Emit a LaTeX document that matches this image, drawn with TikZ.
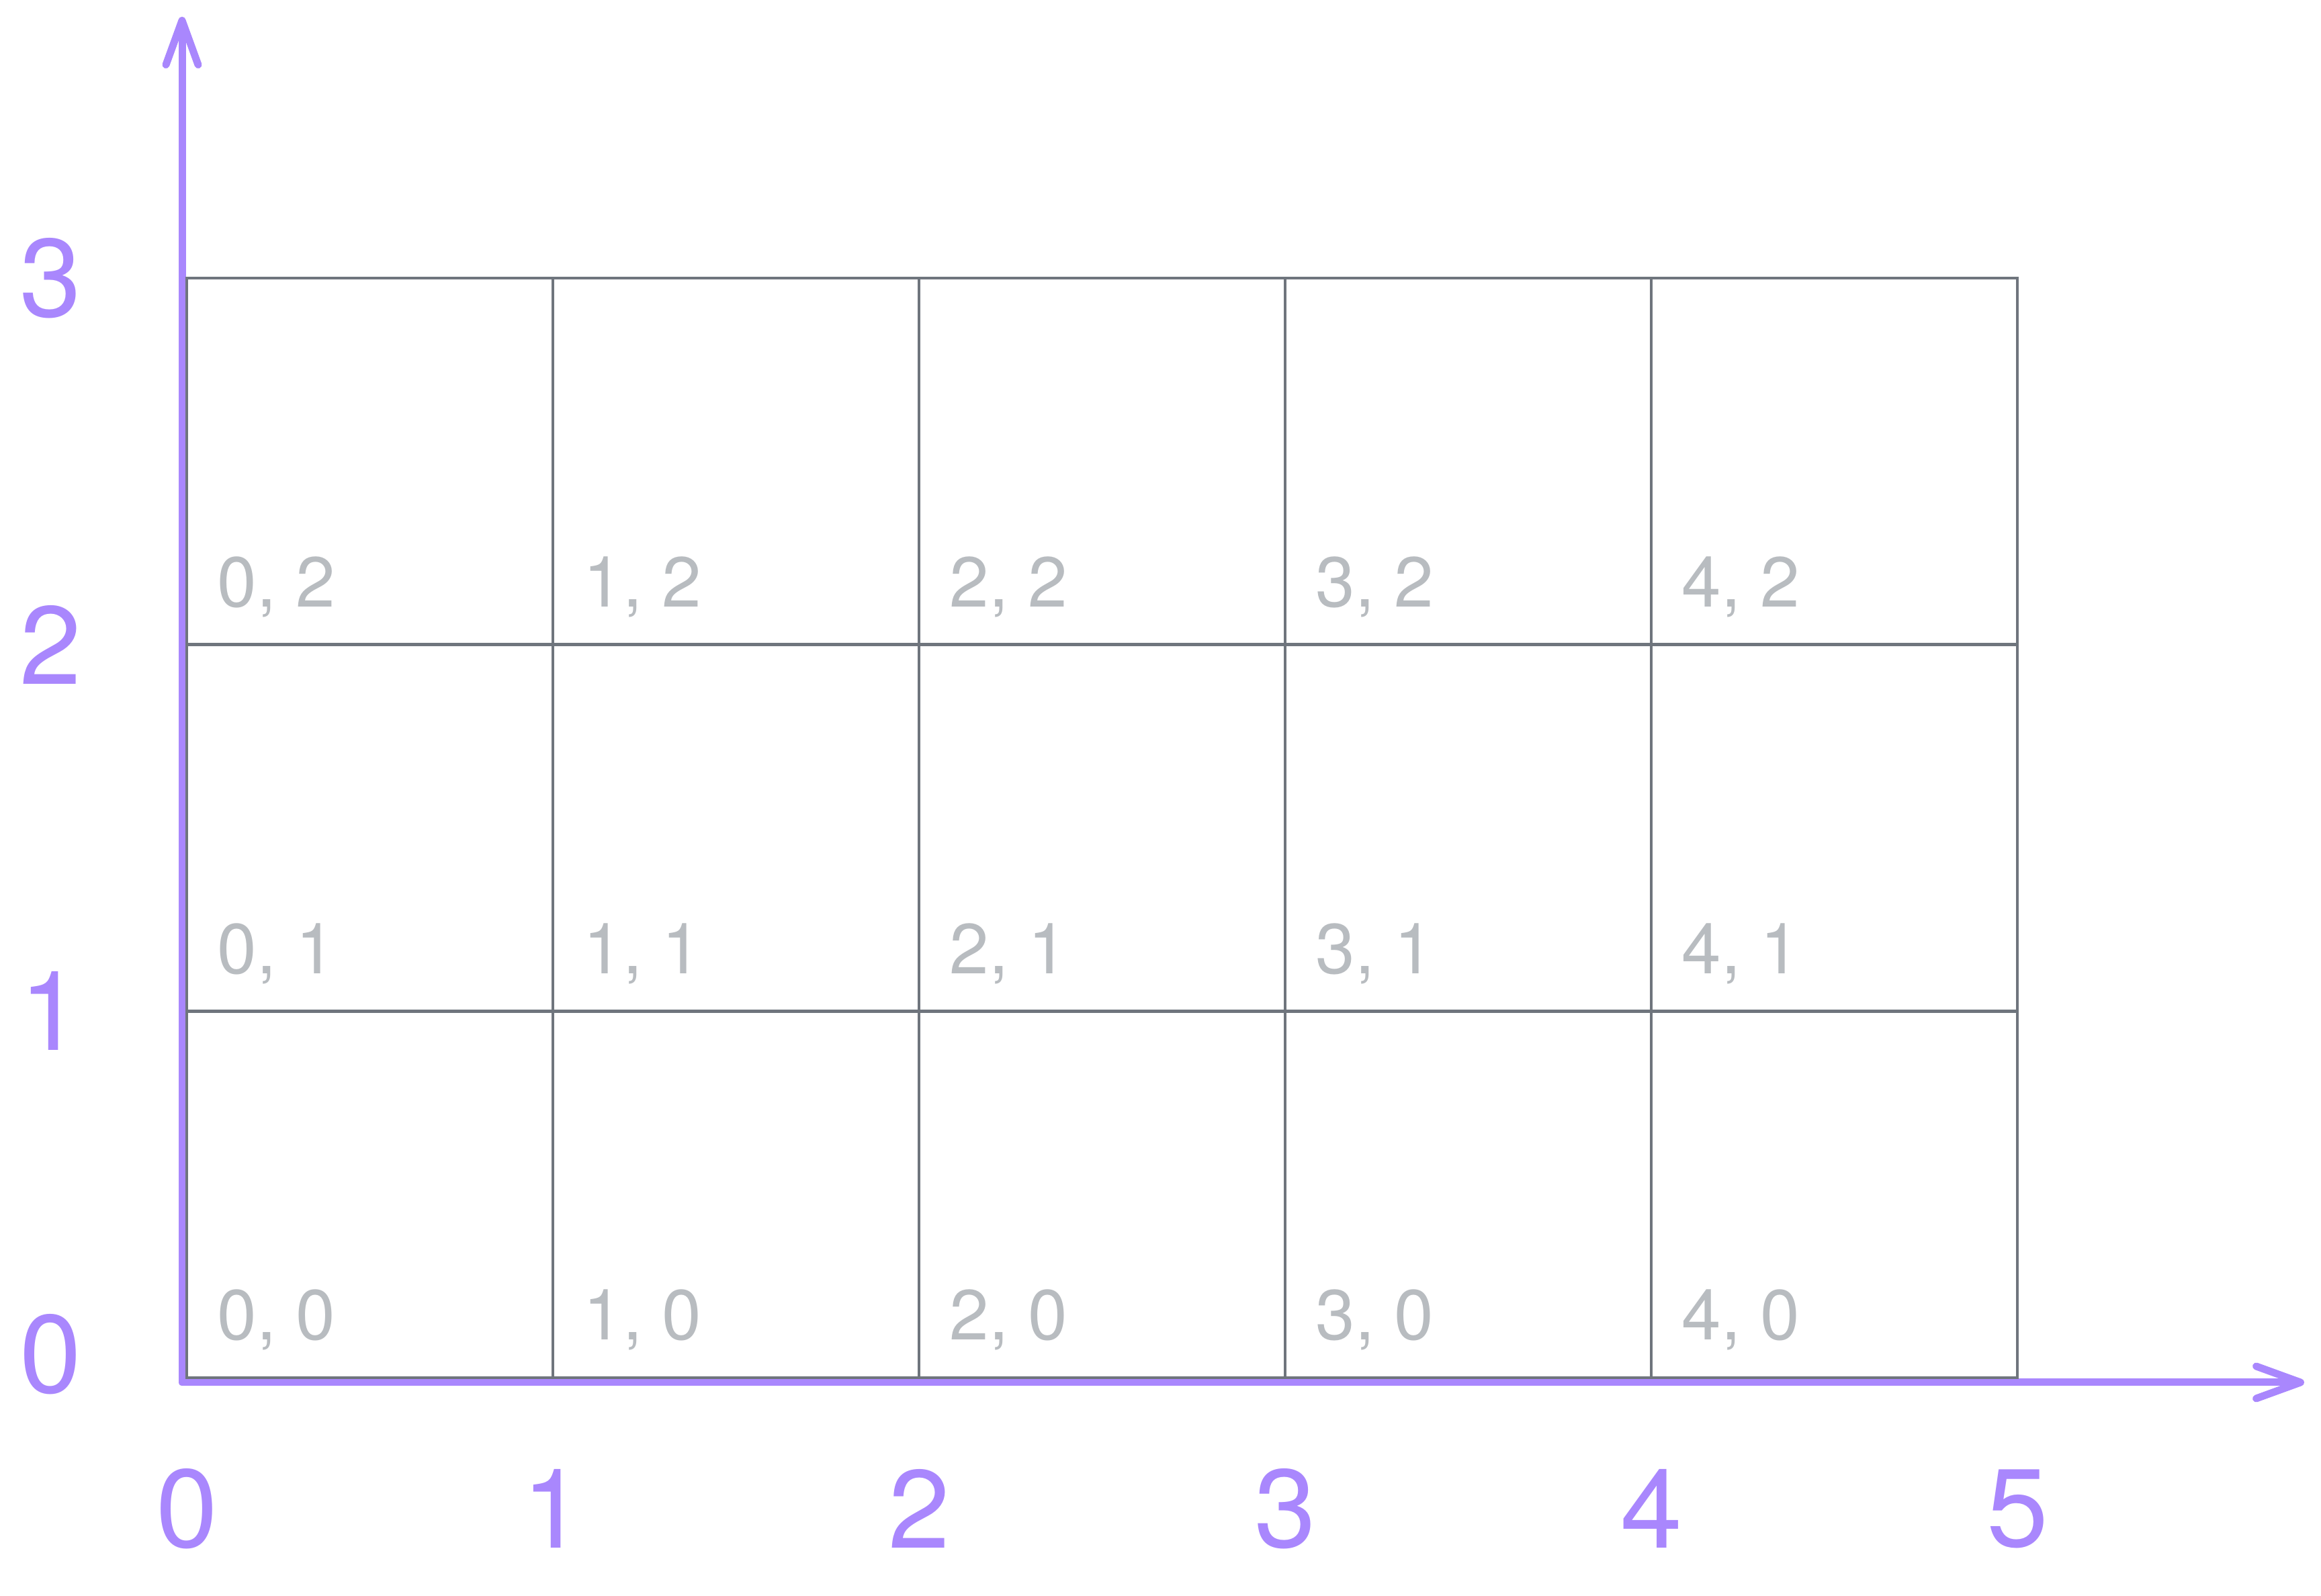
\documentclass[tikz,border=0pt]{standalone}
\usepackage{fontspec}
\setmainfont{TeX Gyre Heros}
\usepackage{xcolor}
\usepackage{tikz}
\usetikzlibrary{arrows.meta}
\definecolor{axpurple}{RGB}{169,135,253}
\definecolor{gridgray}{RGB}{111,117,125}
\definecolor{lblgray}{RGB}{184,188,192}

\begin{document}
\begin{tikzpicture}[>={Straight Barb[length=6.6mm,width=4.8mm,round]},
 axnum/.style={text=axpurple,font=\fontsize{47}{50}\selectfont,inner sep=0pt},
 cellnum/.style={text=lblgray,font=\fontsize{30}{32}\selectfont,inner sep=0pt,anchor=base west}]
\useasboundingbox(-2.71,-3.18)rectangle(31.84,20.58);
\draw[<->,axpurple,line width=1.1mm,line cap=round,line join=round](0,20.33)--(0,0)--(31.59,0);
\draw[gridgray,line width=0.45mm](0.07,0.07)rectangle(27.32,16.44)
(0.07,5.527)--(27.32,5.527)
(0.07,10.984)--(27.32,10.984)
(5.52,0.07)--(5.52,16.44)
(10.97,0.07)--(10.97,16.44)
(16.42,0.07)--(16.42,16.44)
(21.87,0.07)--(21.87,16.44);
\path(0.07,-1.88)node[axnum](x0){0}
(5.52,-1.88)node[axnum](x1){1}
(10.97,-1.88)node[axnum](x2){2}
(16.42,-1.88)node[axnum](x3){3}
(21.87,-1.88)node[axnum](x4){4}
(27.32,-1.88)node[axnum](x5){5}
(-1.96,0.42)node[axnum](y0){0}
(-1.96,5.527)node[axnum](y1){1}
(-1.96,10.984)node[axnum](y2){2}
(-1.96,16.44)node[axnum](y3){3};
\path(0.52,0.63)node[cellnum](c00){0, 0}
(5.97,0.63)node[cellnum](c10){1, 0}
(11.42,0.63)node[cellnum](c20){2, 0}
(16.87,0.63)node[cellnum](c30){3, 0}
(22.32,0.63)node[cellnum](c40){4, 0}
(0.52,6.087)node[cellnum](c01){0, 1}
(5.97,6.087)node[cellnum](c11){1, 1}
(11.42,6.087)node[cellnum](c21){2, 1}
(16.87,6.087)node[cellnum](c31){3, 1}
(22.32,6.087)node[cellnum](c41){4, 1}
(0.52,11.544)node[cellnum](c02){0, 2}
(5.97,11.544)node[cellnum](c12){1, 2}
(11.42,11.544)node[cellnum](c22){2, 2}
(16.87,11.544)node[cellnum](c32){3, 2}
(22.32,11.544)node[cellnum](c42){4, 2};
\end{tikzpicture}
\end{document}
